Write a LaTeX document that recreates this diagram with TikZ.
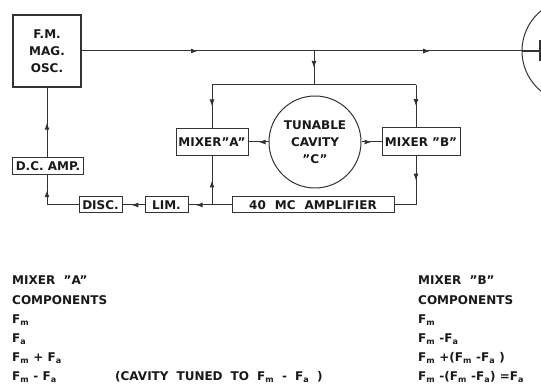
\documentclass[tikz,border=0pt]{standalone}
\usepackage{fontspec}
\setmainfont{DejaVu Sans}
\usetikzlibrary{arrows.meta, decorations.markings, positioning}

\newcommand{\lbl}{\fontsize{12}{17}\selectfont\bfseries}

\tikzset{
  block/.style={draw, rectangle, line width=1pt, inner sep=0pt, font=\lbl, align=center},
  link/.style={line width=1pt},
  midarrow/.style={postaction={decorate},
    decoration={markings, mark=at position #1 with {\arrow{Latex[length=7pt,width=5pt]}}}},
  midarrow/.default=0.5,
  note/.style={anchor=base west, inner sep=0pt, font=\lbl},
}

\begin{document}
\begin{tikzpicture}[x=1pt, y=-1pt, black!80, text=black!90]
  \useasboundingbox (0,0) rectangle (541,387);
  \clip (0,0) rectangle (541,387);

  % blocks
  \node[block, line width=2pt, minimum width=68pt, minimum height=72pt] (osc) at (47,51) {F.M.\\MAG.\\OSC.};
  \node[block, minimum width=71pt, minimum height=17pt] (dcamp) at (48,166.5) {D.C. AMP.};
  \node[block, minimum width=43pt, minimum height=16pt] (disc) at (100.5,205) {DISC.};
  \node[block, minimum width=43pt, minimum height=16pt] (lim) at (166.5,205) {LIM.};
  \node[block, minimum width=162pt, minimum height=16pt, font={\lbl\spaceskip=9pt\relax}] (amp) at (313,205) {40 MC AMPLIFIER};
  \node[block, minimum width=72pt, minimum height=27pt] (mixa) at (212,142) {MIXER"A"};
  \node[block, minimum width=78pt, minimum height=28pt] (mixb) at (421,142) {MIXER "B"};
  \node[draw, circle, line width=1pt, minimum size=92pt, font=\lbl, align=center, inner sep=0pt] (cavity) at (315,142) {TUNABLE\\CAVITY\\"C"};
  \node[draw, circle, line width=1pt, minimum size=104pt] (load) at (574,51) {};

  % junctions
  \coordinate (split) at (314,51);
  \coordinate (tm) at (314,85);
  \coordinate (ta) at (212,85);
  \coordinate (tb) at (416,85);
  \coordinate (fb) at (416,205);
  \coordinate (fa) at (212,205);
  \coordinate (fd) at (47,205);
  \coordinate (probe) at (540,51);
  \coordinate (probetop) at (540,40);
  \coordinate (probebot) at (540,61);

  % connectors
  \draw[link, midarrow] (osc.east) -- (split);
  \draw[link, midarrow=0.56] (split) -- (load.west);
  \draw[line width=1.6pt] (load.west) -- (probe);
  \draw[line width=2.4pt] (probetop) -- (probebot);
  \draw[link, midarrow] (split) -- (tm);
  \draw[link] (ta) -- (tb);
  \draw[link, midarrow] (ta) -- (mixa.north);
  \draw[link, midarrow] (tb) -- (tb |- mixb.north);
  \draw[link, midarrow] (cavity) -- (mixa);
  \draw[link, midarrow] (cavity) -- (mixb);
  \draw[link, midarrow] (tb |- mixb.south) -- (fb);
  \draw[link] (fb) -- (amp.east);
  \draw[link] (amp.west) -- (fa);
  \draw[link, midarrow] (fa) -- (mixa.south);
  \draw[link, midarrow=0.7] (fa) -- (lim.east);
  \draw[link, midarrow=0.6] (lim.west) -- (disc.east);
  \draw[link] (disc.west) -- (fd);
  \draw[link, midarrow] (fd) -- (fd |- dcamp.south);
  \draw[link, midarrow] (fd |- dcamp.north) -- (fd |- osc.south);

  % component lists
  \node[note] (ahead) at (12,285) {MIXER\ \ "A"};
  \node[note] (acomp) at (12,305) {COMPONENTS};
  \node[note] (a1) at (12,324) {F\textsubscript{m}};
  \node[note] (a2) at (12,343) {F\textsubscript{a}};
  \node[note] (a3) at (12,362) {F\textsubscript{m} + F\textsubscript{a}};
  \node[note] (a4) at (12,381) {F\textsubscript{m} - F\textsubscript{a}};
  \node[note, font={\lbl\spaceskip=8pt\relax}] (tuned) at (115,381) {(CAVITY TUNED TO F\textsubscript{m} - F\textsubscript{a} )};

  \node[note] (bhead) at (418,285) {MIXER\ \ "B"};
  \node[note] (bcomp) at (418,305) {COMPONENTS};
  \node[note] (b1) at (418,324) {F\textsubscript{m}};
  \node[note] (b2) at (418,343) {F\textsubscript{m} -F\textsubscript{a}};
  \node[note] (b3) at (418,362) {F\textsubscript{m} +(F\textsubscript{m} -F\textsubscript{a} )};
  \node[note] (b4) at (418,381) {F\textsubscript{m} -(F\textsubscript{m} -F\textsubscript{a}) =F\textsubscript{a}};
\end{tikzpicture}
\end{document}
